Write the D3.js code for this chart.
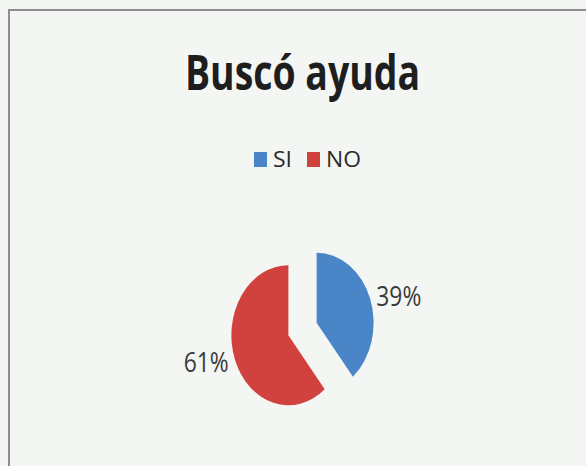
<!DOCTYPE html>
<html>
<head>
<meta charset="utf-8">
<script src="https://cdn.jsdelivr.net/npm/d3@7"></script>
<style>
  html, body { margin: 0; padding: 0; background: #f3f6f3; }
  svg { display: block; font-family: "Open Sans", sans-serif; }
</style>
</head>
<body>
<div id="chart"></div>
<script>
// data
const categories = ['SI', 'NO'];
const values = [39, 61];
const labels = ['39%', '61%'];
const colours = ['#4a86c7', '#d1423f'];
const title = 'Buscó ayuda';

const width = 586, height = 466;

let svg = d3.select('#chart')
    .append('svg')
    .attr('width', width)
    .attr('height', height);

svg.append('rect')
    .attr('width', width).attr('height', height)
    .attr('fill', '#f3f6f3');

// chart frame (left and top edge visible in the scan)
svg.append('path')
    .attr('d', `M9,${height} V10 H${width}`)
    .attr('fill', 'none')
    .attr('stroke', '#8c8c8c')
    .attr('stroke-width', 2);

// title
svg.append('text')
    .attr('x', 185).attr('y', 90)
    .attr('textLength', 235).attr('lengthAdjust', 'spacingAndGlyphs')
    .style('font-size', '48px').style('font-weight', 700)
    .attr('fill', '#1e1e1e')
    .text(title);

// legend
let colour = d3.scaleOrdinal().domain(categories).range(colours);
let legendX = d3.scaleOrdinal().domain(categories).range([254, 307]);
let legendW = d3.scaleOrdinal().domain(categories).range([19, 35]);

let legend = svg.append('g').selectAll('g').data(categories).join('g')
    .attr('transform', d => `translate(${legendX(d)},152)`);

legend.append('rect')
    .attr('width', 13).attr('height', 15)
    .attr('fill', d => colour(d));

legend.append('text')
    .attr('x', 19).attr('y', 15)
    .attr('textLength', d => legendW(d)).attr('lengthAdjust', 'spacingAndGlyphs')
    .style('font-size', '21px')
    .attr('fill', '#2a2a2a')
    .text(d => d);

// exploded pie (the scan is squeezed sideways, hence the y stretch)
const r = 57, explode = 15, stretch = 1.228;
const cx = 302.5, cy = 329;

let pie = d3.pie().sort(null).value(d => d)(values);
let arc = d3.arc().innerRadius(0).outerRadius(r);

let pieG = svg.append('g')
    .attr('transform', `translate(${cx},${cy}) scale(1,${stretch})`);

const mid = d => (d.startAngle + d.endAngle) / 2;

pieG.selectAll('path').data(pie).join('path')
    .attr('transform', d => `translate(${explode * Math.sin(mid(d))},${-explode * Math.cos(mid(d))})`)
    .attr('d', arc)
    .attr('fill', (d, i) => colour(categories[i]));

// percentage labels, just outside each slice
const labelR = 85, labelShift = 5 * Math.PI / 180;
svg.append('g').selectAll('text').data(pie).join('text')
    .attr('x', d => cx + explode * Math.sin(mid(d)) + labelR * Math.sin(mid(d) + labelShift))
    .attr('y', d => cy + stretch * (-explode * Math.cos(mid(d)) - labelR * Math.cos(mid(d) + labelShift)))
    .attr('dy', '0.36em')
    .attr('text-anchor', 'middle')
    .attr('textLength', 45).attr('lengthAdjust', 'spacingAndGlyphs')
    .style('font-size', '28px')
    .attr('fill', '#3a3a3a')
    .text((d, i) => labels[i]);
</script>
</body>
</html>
